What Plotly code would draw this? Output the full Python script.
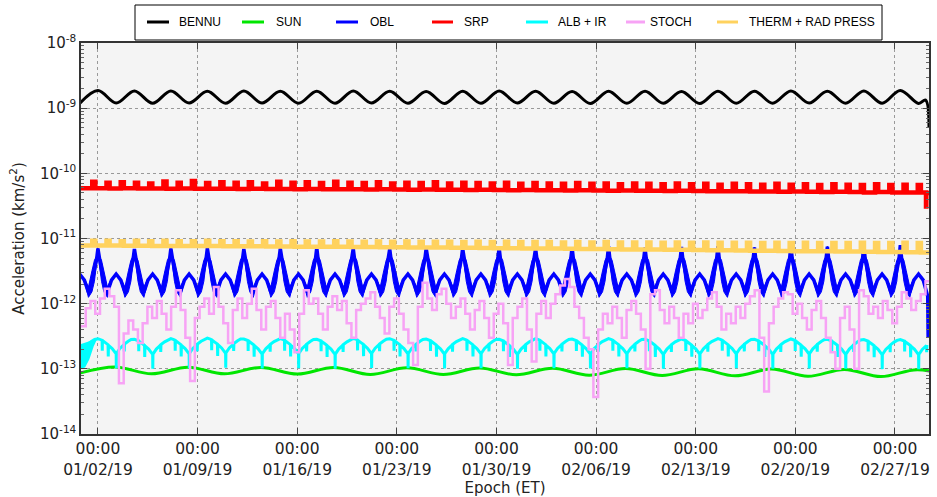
import numpy as np
import pandas as pd
import plotly.graph_objects as go

# ---------------- time base ----------------
T0 = pd.Timestamp("2019-01-02 00:00")
X_RANGE_DAYS = [-1.19, 58.39]          # axis span, days from 01/02/19 00:00
ORBIT_DAYS = 2.5625                     # peak-to-peak spacing of the orbital signals

tick_dates = ["2019-01-02", "2019-01-09", "2019-01-16", "2019-01-23", "2019-01-30",
              "2019-02-06", "2019-02-13", "2019-02-20", "2019-02-27"]
tick_labels = ["00:00<br>01/02/19", "00:00<br>01/09/19", "00:00<br>01/16/19",
               "00:00<br>01/23/19", "00:00<br>01/30/19", "00:00<br>02/06/19",
               "00:00<br>02/13/19", "00:00<br>02/20/19", "00:00<br>02/27/19"]
y_tick_vals = [1e-14, 1e-13, 1e-12, 1e-11, 1e-10, 1e-9, 1e-8]
y_tick_text = ["10<sup>-14</sup>", "10<sup>-13</sup>", "10<sup>-12</sup>", "10<sup>-11</sup>",
               "10<sup>-10</sup>", "10<sup>-9</sup>", "10<sup>-8</sup>"]

# ---------------- BENNU (km/s^2) ----------------
bennu_trough_first_day = -1.28
bennu_peaks = [1.86, 1.84, 1.84, 1.82, 1.84, 1.82, 1.82, 1.84, 1.82, 1.80, 1.82, 1.84,
               1.82, 1.80, 1.82, 1.82, 1.80, 1.82, 1.82, 1.84, 1.82, 1.84, 1.87]          # e-9
bennu_troughs = [1.18, 1.20, 1.19, 1.20, 1.19, 1.20, 1.19, 1.19, 1.20, 1.19, 1.18, 1.19,
                 1.20, 1.19, 1.18, 1.19, 1.19, 1.18, 1.19, 1.19, 1.20, 1.19, 1.19, 1.18]  # e-9
bennu_tail_days = [58.15, 58.39]
bennu_tail_vals = [1.33e-9, 5.0e-10]

# ---------------- SUN ----------------
sun_first_peak_day = 1.2
sun_period_days = 5.125
sun_peaks = [1.07, 1.06, 1.05, 1.05, 1.04, 1.03, 1.02, 1.01, 1.00, 0.99, 0.98, 0.97]     # e-13
sun_troughs = [0.85, 0.84, 0.84, 0.83, 0.82, 0.82, 0.81, 0.80, 0.79, 0.78, 0.77, 0.76, 0.75]  # e-13

# ---------------- OBL ----------------
obl_cycle_hours = [0, 2.5, 6, 10, 16, 22.8, 30.7, 38.6, 45.5, 51.4, 55.6, 59]
obl_cycle_vals = [None, 4.6, 3.2, 2.2, 1.5, 2.3, 2.85, 2.3, 1.5, 2.2, 3.2, 4.6]          # e-12
obl_band = [1.0, 1.15, 1.45, 1.45, 1.2, 1.05, 1.0, 1.05, 1.2, 1.45, 1.45, 1.15]
obl_peaks = [7.0, 7.0, 6.9, 7.0, 7.1, 6.9, 7.0, 7.2, 7.0, 6.9, 7.1, 7.0, 7.2, 7.0, 7.3,
             7.6, 7.2, 7.4, 7.6, 7.3, 7.8, 7.5, 7.9, 7.9]                                  # e-12, cycles -1..22
obl_tail_days = [58.30, 58.33, 58.39]
obl_tail_vals = [1.3e-12, 3.0e-13, 4.0e-13]

# ---------------- SRP ----------------
srp_first_spike_day = -0.4
spike_len_days = 0.22
srp_top = [7.4, 7.2, 7.3, 7.2, 7.0, 7.5, 7.2, 7.6, 7.1, 7.3, 7.2, 7.3, 7.0, 7.4, 7.2, 7.3,
           7.1, 7.4, 7.2, 7.1, 7.3, 7.0, 7.2, 7.1, 7.3, 7.0, 7.2, 7.1, 7.0, 7.2, 6.9, 7.1,
           7.0, 6.9, 7.1, 6.9, 7.0, 6.8, 7.0, 6.9, 6.8, 7.0, 6.8, 6.9, 6.7, 6.9, 6.8, 6.7,
           6.9, 6.7, 6.8, 6.6, 6.8, 6.7, 6.6, 6.8, 6.6, 6.7, 6.6]                         # e-11
srp_base = [5.9, 5.9, 5.85, 5.9, 5.85, 5.85, 5.8, 5.85, 5.8, 5.8, 5.8, 5.75, 5.8, 5.75, 5.75,
            5.7, 5.75, 5.7, 5.7, 5.7, 5.65, 5.7, 5.65, 5.6, 5.65, 5.6, 5.6, 5.55, 5.6, 5.55,
            5.5, 5.55, 5.5, 5.5, 5.45, 5.5, 5.45, 5.4, 5.45, 5.4, 5.4, 5.35, 5.4, 5.35, 5.3,
            5.3, 5.3, 5.25, 5.25, 5.2, 5.25, 5.2, 5.15, 5.2, 5.15, 5.1, 5.15, 5.1, 5.1, 5.1]  # e-11
srp_tail_days = [58.18, 58.20, 58.39]
srp_tail_vals = [3.1e-11, 5.0e-11, 5.0e-11]

# ---------------- ALB + IR ----------------
alb_cycle_hours = [0, 5, 7, 7.3, 7.6, 13, 17, 17.4, 17.8, 24, 30.75, 31.0, 31.3, 37, 44,
                   44.4, 44.8, 51, 56]
alb_cycle_vals = [2.9, 2.8, 2.75, 1.9, 2.72, 2.5, 2.35, 1.55, 2.3, 2.05, 1.7, 1.02, 1.72,
                  2.05, 2.35, 1.85, 2.4, 2.65, 2.82]                                        # e-13
alb_cycle_scale = [1.0, 1.0, 0.98, 1.0, 1.02, 0.99, 1.0, 0.98, 1.01, 1.0, 0.99, 1.0, 0.98,
                   1.0, 0.99, 1.0, 0.98, 0.99, 1.0, 0.98, 0.99, 0.98, 0.97, 0.97]
alb_edge_days = [-1.19, -0.9, -0.6, -0.3, -0.05]
alb_edge_upper = [2.4, 2.5, 2.65, 2.8, 2.9]                                                # e-13
alb_edge_lower = [1.0, 1.05, 1.4, 2.2, 2.9]

# ---------------- STOCH (8-hour steps) ----------------
stoch_step_days = 1.0 / 3.0
stoch_e13 = [4.5, 8.5, 11, 7, 12, 17, 13, 9, 0.6, 3.5, 5.5, 4.0, 2.5, 5, 9, 6, 11, 7, 4, 9,
             16, 8, 3, 0.65, 6, 9, 12, 7, 18, 9, 5, 2.5, 8, 12, 6, 10, 17, 8, 4, 9,
             11, 6, 3, 7, 4, 1.8, 7, 16, 10, 12, 7, 4, 9, 13, 8, 11, 5, 3, 8, 10,
             12, 15, 9, 6, 3.5, 9, 12, 7, 4, 2.5, 1.15, 9, 21, 12, 8, 14, 17, 10, 6, 9,
             12, 7, 4, 8, 11, 6, 3, 7, 10, 5, 1.15, 6, 9, 12, 4, 1.3, 7, 11, 6, 10,
             14, 19, 24, 18, 9, 6, 3, 2, 0.37, 4, 7, 5, 9, 6, 3, 8, 11, 7, 4, 1.0,
             14, 16, 8, 5, 9, 6, 3, 7, 5, 10, 6, 8, 12, 15, 9, 4, 7, 5, 9, 6,
             10, 13, 16, 3, 0.45, 5, 9, 12, 15, 14, 7, 10, 6, 4, 8, 11, 6, 3, 1.8, 1.0,
             6, 9, 4, 1.0, 16, 13, 7, 9, 6, 11, 8, 5, 9, 15, 12, 8, 11, 14, 22]

# ---------------- THERM + RAD PRESS ----------------
thm_top = [9.2, 9.2, 9.1, 9.2, 9.1, 9.2, 9.1, 9.1, 9.2, 9.1, 9.1, 9.0, 9.1, 9.0, 9.1, 9.0,
           9.0, 9.1, 9.0, 8.9, 9.0, 8.9, 9.0, 8.9, 8.9, 8.9, 8.8, 8.9, 8.8, 8.9, 8.8, 8.8,
           8.8, 8.7, 8.8, 8.7, 8.8, 8.7, 8.7, 8.7, 8.6, 8.7, 8.6, 8.7, 8.6, 8.6, 8.6, 8.5,
           8.6, 8.5, 8.6, 8.5, 8.5, 8.5, 8.6, 8.5, 8.5, 8.6, 8.5]                          # e-12
thm_base = [7.8, 7.8, 7.8, 7.75, 7.75, 7.7, 7.7, 7.7, 7.65, 7.65, 7.6, 7.6, 7.6, 7.55, 7.55,
            7.5, 7.5, 7.45, 7.45, 7.4, 7.4, 7.35, 7.35, 7.3, 7.3, 7.25, 7.2, 7.2, 7.15, 7.1,
            7.1, 7.05, 7.0, 7.0, 6.95, 6.9, 6.9, 6.85, 6.8, 6.8, 6.75, 6.7, 6.7, 6.65, 6.6,
            6.6, 6.55, 6.5, 6.5, 6.45, 6.4, 6.4, 6.35, 6.3, 6.3, 6.25, 6.2, 6.2, 6.15, 6.1]  # e-12


def to_time(days):
    return T0 + pd.to_timedelta(np.asarray(days, dtype=float), unit="D")


fig = go.Figure()

# BENNU: alternate troughs and peaks
bx, by = [], []
for k, tv in enumerate(bennu_troughs):
    bx.append(bennu_trough_first_day + k * ORBIT_DAYS); by.append(tv * 1e-9)
    if k < len(bennu_peaks):
        bx.append(k * ORBIT_DAYS); by.append(bennu_peaks[k] * 1e-9)
bx += bennu_tail_days; by += bennu_tail_vals
fig.add_trace(go.Scatter(x=to_time(bx), y=by, mode="lines", name="BENNU",
                         line=dict(color="#000000", width=3, shape="spline", smoothing=1.0)))

# SUN
sx, sy = [], []
half = sun_period_days / 2
for k, tv in enumerate(sun_troughs):
    sx.append(sun_first_peak_day - half + k * sun_period_days); sy.append(tv * 1e-13)
    if k < len(sun_peaks):
        sx.append(sun_first_peak_day + k * sun_period_days); sy.append(sun_peaks[k] * 1e-13)
fig.add_trace(go.Scatter(x=to_time(sx), y=sy, mode="lines", name="SUN",
                         line=dict(color="#00e600", width=3, shape="spline", smoothing=1.0)))

# OBL: centre line plus the dense-oscillation band around each peak
ox, oy, oup, olo = [], [], [], []
last_day = 58.27
for k, pk in enumerate(obl_peaks):
    c = (k - 1) * ORBIT_DAYS
    for h, v, b in zip(obl_cycle_hours, obl_cycle_vals, obl_band):
        d = c + h / 24.0
        if d > last_day:
            break
        val = (pk if v is None else v) * 1e-12
        ox.append(d); oy.append(val); oup.append(val * b); olo.append(val / b)
band_x = to_time(ox + ox[::-1])
fig.add_trace(go.Scatter(x=band_x, y=oup + olo[::-1], mode="lines", fill="toself",
                         fillcolor="#0000ff", line=dict(width=1, color="#0000ff"),
                         showlegend=False, hoverinfo="skip"))
ox += obl_tail_days; oy += obl_tail_vals
fig.add_trace(go.Scatter(x=to_time(ox), y=oy, mode="lines", name="OBL",
                         line=dict(color="#0000ff", width=3.5)))


def spike_series(first_day, base, top, scale):
    xs = [X_RANGE_DAYS[0] - 0.1]
    ys = [base[0] * scale]
    for k in range(len(top)):
        d = first_day + k
        xs += [d, d + spike_len_days]
        ys += [top[k] * scale, base[k + 1] * scale]
    return xs, ys


# SRP
rx, ry = spike_series(srp_first_spike_day, srp_base, srp_top, 1e-11)
rx += srp_tail_days; ry += srp_tail_vals
fig.add_trace(go.Scatter(x=to_time(rx), y=ry, mode="lines", name="SRP",
                         line=dict(color="#ff0000", width=4.5, shape="hv")))

# ALB + IR
ax_, ay_ = [], []
for k, sc in enumerate(alb_cycle_scale):
    c = (k - 1) * ORBIT_DAYS
    for h, v in zip(alb_cycle_hours, alb_cycle_vals):
        d = c + h / 24.0
        if d > X_RANGE_DAYS[1] + 0.1:
            break
        ax_.append(d); ay_.append(v * sc * 1e-13)
fig.add_trace(go.Scatter(x=to_time(alb_edge_days + alb_edge_days[::-1]),
                         y=[v * 1e-13 for v in alb_edge_upper + alb_edge_lower[::-1]],
                         mode="lines", fill="toself", fillcolor="#00ffff",
                         line=dict(width=0, color="#00ffff"), showlegend=False, hoverinfo="skip"))
fig.add_trace(go.Scatter(x=to_time(ax_), y=ay_, mode="lines", name="ALB + IR",
                         line=dict(color="#00ffff", width=3)))

# STOCH
stx = [X_RANGE_DAYS[0] + i * stoch_step_days for i in range(len(stoch_e13))]
sty = [v * 1e-13 for v in stoch_e13]
stx.append(X_RANGE_DAYS[1] + 0.05); sty.append(sty[-1])
fig.add_trace(go.Scatter(x=to_time(stx), y=sty, mode="lines", name="STOCH",
                         line=dict(color="#f7a3f5", width=2.5, shape="hv")))

# THERM + RAD PRESS
tx, ty = spike_series(srp_first_spike_day, thm_base, thm_top, 1e-12)
tx.append(X_RANGE_DAYS[1] + 0.1); ty.append(thm_base[-1] * 1e-12)
fig.add_trace(go.Scatter(x=to_time(tx), y=ty, mode="lines", name="THERM + RAD PRESS",
                         line=dict(color="#ffd25e", width=4.5, shape="hv")))

# ---------------- layout ----------------
W, H = 937, 497
L, R, T, B = 81, 8, 43, 63
pw, ph = W - L - R, H - T - B


def px(xp):
    return (xp - L) / pw


def py(yp):
    return (H - B - yp) / ph


minor_vals = [m * 10.0 ** e for e in range(-14, -8) for m in range(2, 10)]
x_tick_font = dict(family="DejaVu Sans", size=15.5, color="#222222")
y_tick_font = dict(family="DejaVu Sans", size=15, color="#222222")
title_font = dict(family="DejaVu Sans", size=15, color="#222222")

fig.update_layout(
    width=W, height=H, margin=dict(l=L, r=R, t=T, b=B, autoexpand=False),
    paper_bgcolor="white", plot_bgcolor="#f4f4f4", showlegend=False,
    font=title_font,
    xaxis=dict(type="date", automargin=False,
               range=[str(to_time([X_RANGE_DAYS[0]])[0]), str(to_time([X_RANGE_DAYS[1]])[0])],
               tickvals=tick_dates, ticktext=tick_labels, ticks="inside", ticklen=6,
               tickcolor="#444", showline=True, linecolor="#333", linewidth=1.5,
               mirror="allticks", showgrid=True, gridcolor="#999999", griddash="dot",
               gridwidth=1, zeroline=False, tickfont=x_tick_font,
               title=dict(text="Epoch (ET)", font=title_font, standoff=9)),
    yaxis=dict(type="log", range=[-14, -8], tickvals=y_tick_vals, ticktext=y_tick_text,
               automargin=False,
               ticks="inside", ticklen=6, tickcolor="#444", showline=True, linecolor="#333",
               linewidth=1.5, mirror="allticks", showgrid=True, gridcolor="#999999",
               griddash="dot", gridwidth=1, zeroline=False, tickfont=y_tick_font,
               minor=dict(tickvals=minor_vals, ticks="inside", ticklen=3, tickcolor="#666",
                          showgrid=False),
               title=dict(text="Acceleration (km/s<sup>2</sup>)", font=title_font, standoff=12)),
)

# manual legend (box, line samples and labels)
legend_names = ["BENNU", "SUN", "OBL", "SRP", "ALB + IR", "STOCH", "THERM + RAD PRESS"]
legend_colors = ["#000000", "#00e600", "#0000ff", "#ff0000", "#00ffff", "#f7a3f5", "#ffd25e"]
legend_line_x = [(147, 169), (242, 264), (336, 358), (432, 453), (526, 548), (626, 645), (717, 738)]
legend_text_x = [177, 274, 368, 462, 556, 648, 747]

shapes = [dict(type="rect", xref="paper", yref="paper", x0=px(135), x1=px(882),
               y0=py(40), y1=py(5), line=dict(color="black", width=1), fillcolor="white")]
annotations = []
for name, col, (x0, x1), xt in zip(legend_names, legend_colors, legend_line_x, legend_text_x):
    shapes.append(dict(type="line", xref="paper", yref="paper", x0=px(x0), x1=px(x1),
                       y0=py(22), y1=py(22), line=dict(color=col, width=3)))
    annotations.append(dict(xref="paper", yref="paper", x=px(xt), y=py(22), text=name,
                            showarrow=False, xanchor="left", yanchor="middle",
                            font=dict(family="Liberation Sans", size=12, color="black")))
fig.update_layout(shapes=shapes, annotations=annotations)

fig.write_html("out.html")
